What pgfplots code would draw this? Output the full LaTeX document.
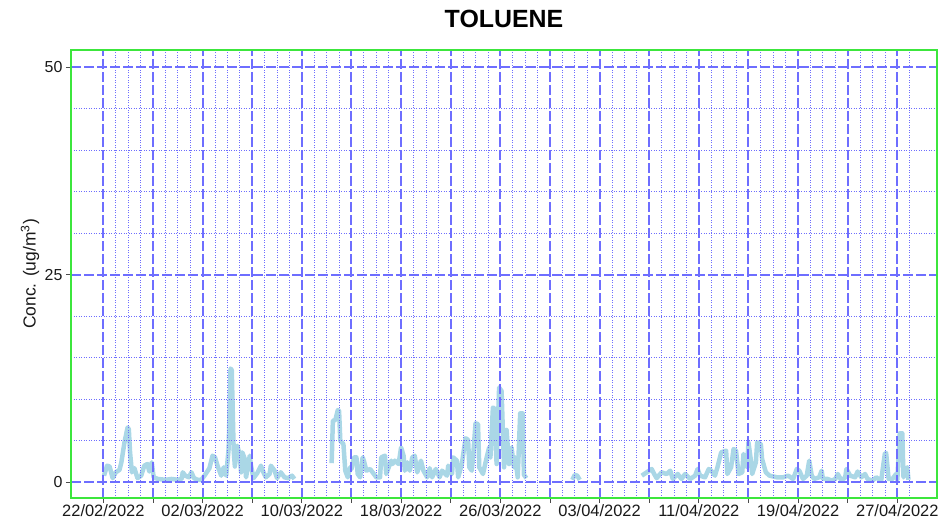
\documentclass[border=0pt]{standalone}
\usepackage{fontspec}
\setmainfont{Liberation Sans}
\usepackage{pgfplots}
\pgfplotsset{compat=1.18}
\definecolor{gmaj}{RGB}{110,110,255}
\definecolor{gmin}{RGB}{110,110,255}
\definecolor{tol}{RGB}{170,215,230}
\definecolor{frameg}{RGB}{60,230,60}
\definecolor{txt}{RGB}{25,25,25}
\begin{document}
\begin{tikzpicture}
\path[use as bounding box] (0,0) rectangle (940bp,522bp);
\begin{axis}[
  at={(71bp,24bp)}, anchor=south west,
  width=866bp, height=448bp, scale only axis,
  xmin=-2.61, xmax=67.2, ymin=-1.89, ymax=52.04,
  xtick={0,4,...,64},
  xticklabels={22/02/2022,{},02/03/2022,{},10/03/2022,{},18/03/2022,{},26/03/2022,{},03/04/2022,{},11/04/2022,{},19/04/2022,{},27/04/2022},
  minor xtick={1,2,3,5,6,7,9,10,11,13,14,15,17,18,19,21,22,23,25,26,27,29,30,31,33,34,35,37,38,39,41,42,43,45,46,47,49,50,51,53,54,55,57,58,59,61,62,63,65},
  ytick={0,25,50},
  minor ytick={5,10,15,20,30,35,40,45},
  grid=both,
  major grid style={draw=gmaj, line width=2bp, dash pattern=on 10bp off 3bp},
  minor grid style={draw=gmin, line width=0.8bp, dash pattern=on 1bp off 1.5bp},
  axis line style={frameg, line width=2bp},
  axis on top,
  tick align=outside, tick pos=left,
  major tick length=5bp, minor tick length=0pt,
  major tick style={draw=black!70, line width=0.8bp},
  /pgf/number format/assume math mode=true,
  tick label style={font=\fontsize{16}{19}\selectfont, text=txt},
  xticklabel style={anchor=base, yshift=-13bp, font=\fontsize{16.5}{19}\selectfont},
  yticklabel style={anchor=east},
  title={TOLUENE},
  title style={at={(axis description cs:0.5,1)}, anchor=base, yshift=17bp, font=\fontsize{25}{29}\selectfont\bfseries},
  ylabel={Conc. (ug/m\textsuperscript{3})},
  ylabel style={at={(axis description cs:-0.0473,0.5)}, anchor=center, rotate=0, font=\fontsize{17.5}{20}\selectfont, text=txt},
]
\addplot[tol, line width=4.5bp, line join=round] coordinates {
(0.05,0.8) (0.3,2.0) (0.5,1.9) (0.75,0.5) (1.0,1.2) (1.3,1.5) (1.45,2.4) (1.7,4.8)
(1.95,6.6) (2.05,6.4) (2.15,3.6) (2.3,1.2) (2.5,1.7) (2.75,0.5) (3.05,0.8) (3.3,2.0)
(3.55,2.2) (3.7,1.3) (3.9,2.4) (4.05,0.6) (4.4,0.4) (5.0,0.3) (5.5,0.4) (6.0,0.3)
(6.3,0.4) (6.4,1.2) (6.6,0.8) (6.9,0.6) (7.1,1.2) (7.3,0.5) (7.6,0.3) (7.9,0.3)
(8.15,0.8) (8.55,1.7) (8.8,3.2) (9.0,3.0) (9.2,2.0) (9.5,0.8) (9.7,1.8) (9.9,0.8)
(10.1,4.1) (10.25,13.7) (10.35,13.5) (10.5,4.0) (10.6,1.9) (10.8,4.4) (11.0,3.2) (11.1,1.2)
(11.2,3.6) (11.4,2.8) (11.5,0.6) (11.8,3.2) (11.9,2.0) (12.1,0.5) (12.4,1.1) (12.7,2.0)
(12.9,1.2) (13.1,0.6) (13.4,1.0) (13.5,2.0) (13.8,1.4) (14.0,0.5) (14.3,1.2) (14.6,0.6)
(14.9,0.5) (15.2,0.8) (15.4,0.4)
};
\addplot[tol, line width=4.5bp, line join=round] coordinates {
(18.4,2.3) (18.5,7.4) (18.7,7.5) (18.9,8.7) (19.0,8.6) (19.1,5.0) (19.35,4.6) (19.5,1.4)
(19.7,0.6) (19.9,1.8) (20.0,1.6) (20.2,3.0) (20.4,3.0) (20.5,1.0) (20.7,0.6) (20.9,3.0)
(21.0,2.6) (21.2,1.4) (21.5,1.6) (21.7,1.2) (22.0,0.6) (22.3,0.6) (22.4,3.0) (22.7,3.2)
(22.8,1.0) (23.1,2.2) (23.2,2.6) (23.3,2.2) (23.5,2.6) (23.8,2.2) (24.0,4.2) (24.2,3.2)
(24.3,1.4) (24.5,2.4) (24.7,1.4) (24.9,3.0) (25.1,3.2) (25.3,1.2) (25.6,2.6) (25.8,1.4)
(26.1,0.6) (26.3,1.7) (26.5,0.6) (26.8,1.6) (27.1,0.6) (27.3,1.4) (27.7,0.8) (27.8,2.0)
(28.1,1.0) (28.2,3.0) (28.5,2.6) (28.6,0.6) (28.9,2.2) (29.0,3.3) (29.2,5.3) (29.4,5.1)
(29.5,1.8) (29.7,1.4) (29.8,3.0) (30.0,7.1) (30.2,7.0) (30.3,1.8) (30.6,1.0) (30.9,3.0)
(31.1,4.2) (31.2,3.0) (31.4,9.0) (31.5,8.9) (31.7,2.2) (31.9,11.4) (32.1,11.0) (32.2,6.3)
(32.3,1.8) (32.5,6.3) (32.7,2.2) (32.9,4.2) (33.1,1.8) (33.2,3.0) (33.4,0.6) (33.6,8.3)
(33.8,8.3) (33.9,0.9) (34.1,0.5)
};
\addplot[tol, line width=4.5bp, line join=round] coordinates {
(37.8,0.3) (38.0,0.9) (38.2,0.8) (38.4,0.3)
};
\addplot[tol, line width=4.5bp, line join=round] coordinates {
(43.4,0.8) (43.8,1.2) (44.2,1.6) (44.4,1.0) (44.6,0.5) (45.0,1.2) (45.4,1.0) (45.7,1.4)
(45.9,0.4) (46.3,1.0) (46.6,0.4) (46.9,1.0) (47.3,0.4) (47.7,0.8) (47.9,1.6) (48.1,0.8)
(48.5,0.6) (48.8,1.6) (49.0,1.4) (49.3,0.8) (49.5,1.8) (49.8,3.6) (50.2,3.8) (50.3,1.0)
(50.6,1.8) (50.8,4.0) (51.0,3.8) (51.2,1.0) (51.5,1.2) (51.6,3.4) (51.9,1.8) (52.0,4.8)
(52.2,2.6) (52.3,1.0) (52.6,2.4) (52.7,4.8) (53.0,4.6) (53.1,2.8) (53.4,1.2) (53.7,0.8)
(54.3,0.6) (54.8,0.6) (55.2,0.8) (55.6,0.4) (55.9,1.6) (56.1,1.4) (56.4,0.4) (56.7,0.8)
(56.9,2.6) (57.1,0.8) (57.3,0.4) (57.7,0.6) (57.9,1.4) (58.0,0.4) (58.4,0.4) (58.7,0.2)
(59.0,0.4) (59.2,1.0) (59.5,0.2) (59.8,0.6) (59.9,1.6) (60.2,0.8) (60.6,0.6) (60.8,1.3)
(61.1,0.6) (61.4,1.0) (61.6,0.4) (62.0,0.2) (62.3,0.6) (62.7,0.2) (63.0,3.5) (63.1,3.5)
(63.3,0.4) (63.6,0.4) (63.9,1.0) (64.0,0.3) (64.2,5.9) (64.4,5.9) (64.5,0.6) (64.7,1.6)
(64.8,1.8) (64.9,0.3)
};
\end{axis}
\end{tikzpicture}
\end{document}
